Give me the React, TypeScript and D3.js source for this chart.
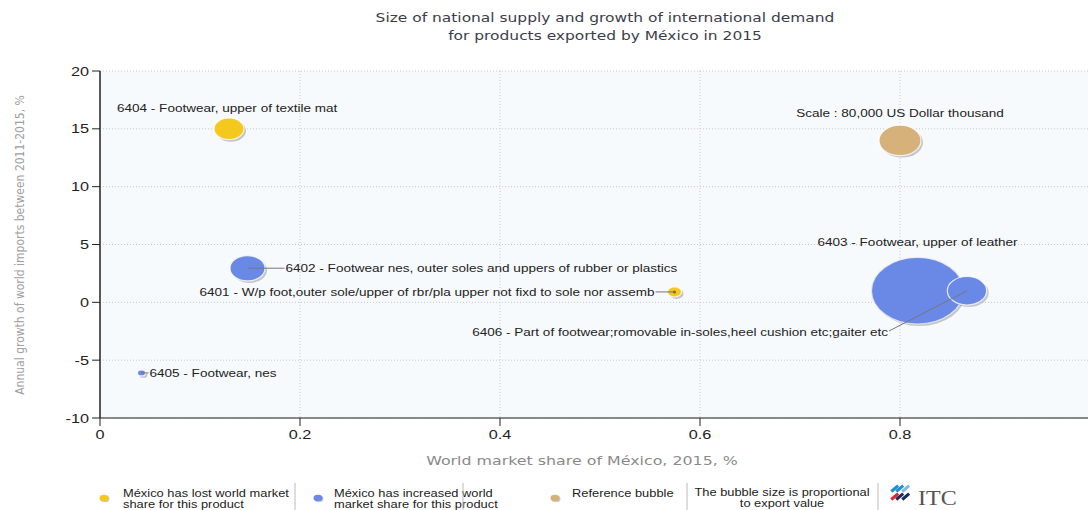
import React from "react";
import * as d3 from "d3";

const titleLines = [
  "Size of national supply and growth of international demand",
  "for products exported by México in 2015",
];
const xTicks = [0, 0.2, 0.4, 0.6, 0.8];
const yTicks = [-10, -5, 0, 5, 10, 15, 20];

const codes = ["6403", "6406", "6402", "6404", "6401", "6405"];
const labels = [
  "6403 - Footwear, upper of leather",
  "6406 - Part of footwear;romovable in-soles,heel cushion etc;gaiter etc",
  "6402 - Footwear nes, outer soles and uppers of rubber or plastics",
  "6404 - Footwear, upper of textile mat",
  "6401 - W/p foot,outer sole/upper of rbr/pla upper not fixd to sole nor assemb",
  "6405 - Footwear, nes",
];
const marketShare = [0.8175, 0.867, 0.1475, 0.129, 0.5745, 0.0415];
const growth = [1.0, 1.0, 2.95, 15.0, 0.9, -6.1];
const exportValue = [384000, 70400, 55500, 40800, 8900, 2900];
const lostShare = [false, false, false, true, true, false];

const refValue = 80000;
const refX = 0.8;
const refY = 14;
const refLabel = "Scale : 80,000 US Dollar thousand";

const legendItems = [
  ["México has lost world market", "share for this product"],
  ["México has increased world", "market share for this product"],
  ["Reference bubble"],
];
const legendNote = ["The bubble size is proportional", "to export value"];

const W = 1088;
const H = 510;
const YELLOW = "#F4C81C";
const BLUE = "#6A89E6";
const BEIGE = "#D6B27A";
const ARIAL = "Arial, 'Liberation Sans', sans-serif";
const VERDANA = "'DejaVu Sans', Verdana, sans-serif";

function SText({ x, y, sx = 1.23, anchor = "start", size = 11, fill = "#222", family = ARIAL, children }: any) {
  return (
    <g transform={`translate(${x},${y}) scale(${sx},1)`}>
      <text x={0} y={0} textAnchor={anchor} fontFamily={family} fontSize={size} fill={fill}>
        {children}
      </text>
    </g>
  );
}

export default function App() {
  const x = d3.scaleLinear().domain([0, 0.99]).range([100, 1090]);
  const y = d3.scaleLinear().domain([-10, 20]).range([418, 71]);
  const rScale = d3.scaleSqrt().domain([0, refValue]).range([0, 21]);
  const aspect = 1.38;

  const placements: any[] = [
    { kind: "above", dx: 0, dy: -45 },
    { kind: "leader", tx: 889, ty: 332 },
    { kind: "right", gap: 37 },
    { kind: "above", dx: -112, dy: -17, anchor: "start" },
    { kind: "left", gap: 19 },
    { kind: "right", gap: 7 },
  ];

  const bubble = (cx: number, cy: number, rx: number, fill: string, key: string, stroke = "#ffffff") => (
    <g key={key}>
      <ellipse cx={cx + 2} cy={cy + 2} rx={rx} ry={rx / aspect} fill="#9a9a9a" opacity={0.55} />
      <ellipse cx={cx} cy={cy} rx={rx} ry={rx / aspect} fill={fill} stroke={stroke} strokeOpacity={0.8} strokeWidth={1.2} />
    </g>
  );

  return (
    <svg width={W} height={H} style={{ position: "absolute", left: 0, top: 0, background: "#fff" }}>
      {titleLines.map((t, i) => (
        <SText key={i} x={605} y={22 + i * 18} sx={1.19} anchor="middle" size={13} fill="#3b3d4a" family={VERDANA}>
          {t}
        </SText>
      ))}

      <rect x={100} y={71} width={W - 100} height={347} fill="#F7FAFD" />

      {yTicks.map((t) => (
        <line key={"gy" + t} x1={100} x2={W} y1={y(t)} y2={y(t)} stroke="#c8c8c8" strokeDasharray="1,2" strokeWidth={1} />
      ))}
      {xTicks.slice(1).map((t) => (
        <line key={"gx" + t} x1={x(t)} x2={x(t)} y1={71} y2={418} stroke="#c8c8c8" strokeDasharray="1,2" strokeWidth={1} />
      ))}

      <line x1={100} x2={W} y1={418} y2={418} stroke="#666" strokeWidth={1.5} />
      <line x1={100} x2={100} y1={71} y2={418} stroke="#222" strokeWidth={1.5} />
      {yTicks.map((t) => (
        <g key={"ty" + t}>
          <line x1={92} x2={100} y1={y(t)} y2={y(t)} stroke="#222" />
          <SText x={89} y={y(t) + 4.5} sx={1.25} anchor="end" size={13}>
            {t}
          </SText>
        </g>
      ))}
      {xTicks.map((t) => (
        <g key={"tx" + t}>
          <line x1={x(t)} x2={x(t)} y1={418} y2={426} stroke="#222" />
          <SText x={x(t)} y={439} sx={1.25} anchor="middle" size={13}>
            {t}
          </SText>
        </g>
      ))}

      <SText x={582} y={465} sx={1.32} anchor="middle" size={12} fill="#8a8a8a" family={VERDANA}>
        World market share of México, 2015, %
      </SText>
      <text
        transform={`translate(24,245) rotate(-90)`}
        textAnchor="middle"
        fontFamily="'DejaVu Sans Condensed', 'Liberation Sans Narrow', 'Roboto', sans-serif"
        fontStretch="condensed"
        fontSize={12}
        fill="#a0a0a0"
      >
        Annual growth of world imports between 2011-2015, %
      </text>

      {bubble(x(refX), y(refY), rScale(refValue), BEIGE, "ref")}
      <SText x={x(refX)} y={117} anchor="middle">
        {refLabel}
      </SText>

      {codes.map((c, i) =>
        bubble(x(marketShare[i]), y(growth[i]), rScale(exportValue[i]), lostShare[i] ? YELLOW : BLUE, c, i === 0 ? "#e8ecf8" : "#ffffff")
      )}

      {codes.map((c, i) => {
        const cx = x(marketShare[i]);
        const cy = y(growth[i]);
        const p = placements[i];
        if (p.kind === "above") {
          return (
            <SText key={"l" + c} x={cx + p.dx} y={cy + p.dy} anchor={p.anchor || "middle"}>
              {labels[i]}
            </SText>
          );
        }
        if (p.kind === "right") {
          return (
            <g key={"l" + c}>
              <line x1={cx} x2={cx + p.gap} y1={cy} y2={cy} stroke="#777" strokeWidth={1} />
              <SText x={cx + p.gap + 1} y={cy + 4}>
                {labels[i]}
              </SText>
            </g>
          );
        }
        if (p.kind === "left") {
          return (
            <g key={"l" + c}>
              <line x1={cx} x2={cx - p.gap} y1={cy} y2={cy} stroke="#777" strokeWidth={1} />
              <circle cx={cx} cy={cy} r={1.5} fill="#8a6a20" />
              <SText x={cx - p.gap - 1} y={cy + 4} anchor="end">
                {labels[i]}
              </SText>
            </g>
          );
        }
        return (
          <g key={"l" + c}>
            <line x1={cx} y1={cy} x2={p.tx} y2={p.ty - 1} stroke="#777" strokeWidth={1} />
            <SText x={p.tx - 1} y={p.ty + 4} anchor="end">
              {labels[i]}
            </SText>
          </g>
        );
      })}

      {legendItems.map((lines, i) => {
        const dotX = [104, 318, 555][i];
        const txtX = [123, 334, 572][i];
        const col = [YELLOW, BLUE, BEIGE][i];
        return (
          <g key={"lg" + i}>
            <ellipse cx={dotX + 1} cy={499} rx={4.5} ry={3.3} fill="#aaa" opacity={0.6} />
            <ellipse cx={dotX} cy={498} rx={4.5} ry={3.3} fill={col} />
            {lines.map((ln, j) => (
              <SText key={j} x={txtX} y={497 + j * 11} sx={1.17}>
                {ln}
              </SText>
            ))}
          </g>
        );
      })}
      {[295, 463, 687, 878].map((sx) => (
        <line key={"sep" + sx} x1={sx} x2={sx} y1={483} y2={510} stroke="#bbb" />
      ))}
      {legendNote.map((ln, j) => (
        <SText key={"n" + j} x={782} y={496 + j * 11} sx={1.17} anchor="middle">
          {ln}
        </SText>
      ))}

      <g transform="translate(901,497)">
        {[
          [-8, -5, "#1c8fd6"],
          [-3, -5, "#1c8fd6"],
          [-8, 3, "#e4242e"],
          [-3, 3, "#1c2a5a"],
          [3, -5, "#7fb8e6"],
          [3, 3, "#1c2a5a"],
        ].map(([dx, dy, col], k) => (
          <rect key={k} x={(dx as number) - 1} y={(dy as number) - 3} width={9} height={3} fill={col as string} transform={`rotate(-40 ${dx} ${dy})`} />
        ))}
      </g>
      <SText x={918} y={505} sx={1.2} size={20} fill="#555" family="'Liberation Serif', 'DejaVu Serif', serif">
        ITC
      </SText>
    </svg>
  );
}
